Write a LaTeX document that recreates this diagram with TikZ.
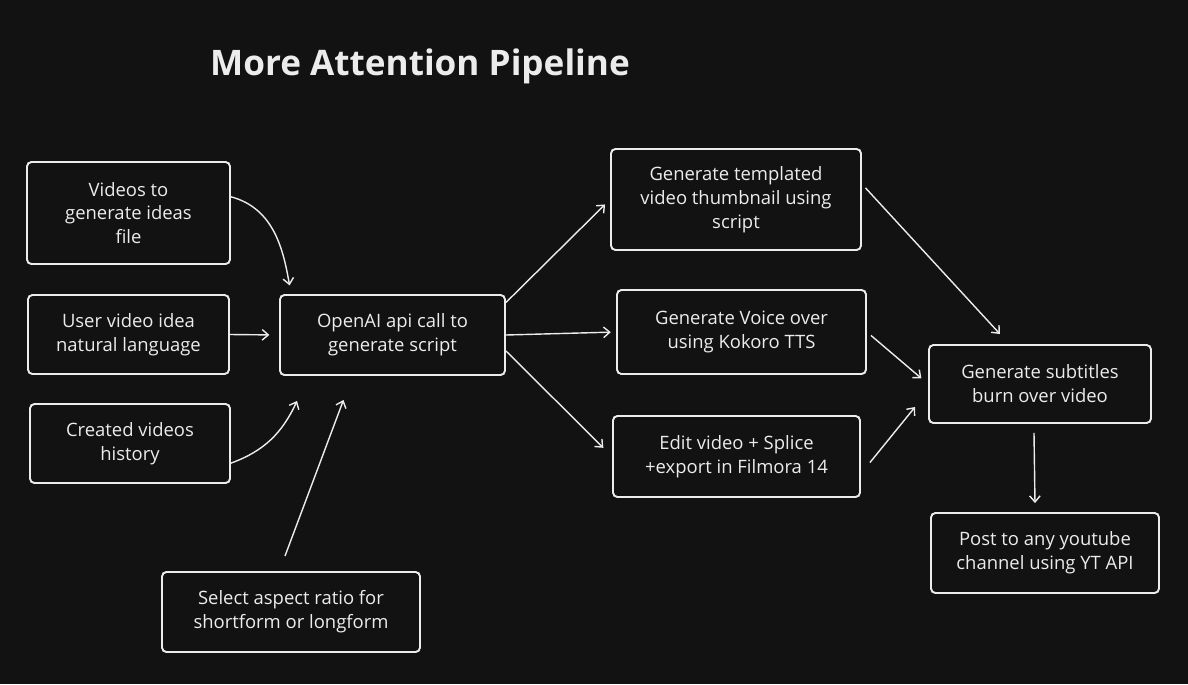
\documentclass[tikz,border=0pt]{standalone}
\usepackage{fontspec}
\setmainfont{Open Sans}
\usetikzlibrary{arrows.meta}

\definecolor{canvas}{HTML}{121212}
\definecolor{ink}{HTML}{ECECEC}

\tikzset{
    stage/.style={draw=ink, line width=1.1pt, rounded corners=2.5pt, align=center,
        text=ink, font=\fontsize{10.5}{13.6}\selectfont, inner sep=0pt},
    flow/.style={-{Straight Barb[length=3.5pt,width=6pt]}, draw=ink, line width=0.8pt}
}

\begin{document}
\begin{tikzpicture}[x=0.02cm, y=-0.02cm]
            \fill[canvas] (0,0) rectangle (1188,684);
            \useasboundingbox (0,0) rectangle (1188,684);

            \node[text=ink, font=\fontsize{20}{24}\selectfont\bfseries] (title) at (420,66) {More Attention Pipeline};

            % inputs
            \node[stage, minimum width=4.06cm, minimum height=2.04cm] (videos) at (128.5,213) {Videos to\\generate ideas\\file};
            \node[stage, minimum width=4.02cm, minimum height=1.58cm] (user) at (128.5,334.5) {User video idea\\natural language};
            \node[stage, minimum width=4.0cm, minimum height=1.58cm] (created) at (130,443.5) {Created videos\\history};
            \node[stage, minimum width=5.16cm, minimum height=1.6cm] (select) at (291,612) {Select aspect ratio for\\shortform or longform};

            \node[stage, minimum width=4.5cm, minimum height=1.6cm] (openai) at (392.5,335) {OpenAI api call to\\generate script};

            % parallel steps
            \node[stage, minimum width=5.0cm, minimum height=2.02cm] (thumb) at (736,199.5) {Generate templated\\video thumbnail using\\script};
            \node[stage, minimum width=4.98cm, minimum height=1.68cm] (voice) at (741.5,332) {Generate Voice over\\using Kokoro TTS};
            \node[stage, minimum width=4.94cm, minimum height=1.62cm] (edit) at (736.5,456.5) {Edit video + Splice\\+export in Filmora 14};

            \node[stage, minimum width=4.44cm, minimum height=1.56cm] (subt) at (1040,384) {Generate subtitles\\burn over video};
            \node[stage, minimum width=4.56cm, minimum height=1.6cm] (post) at (1045,553) {Post to any youtube\\channel using YT API};

            \draw[flow, shorten >=5pt] (videos.9) to[out=-15, in=100] (openai.158);
            \draw[flow, shorten >=5.5pt] (user.east) -- (openai.west);
            \draw[flow] (created.-11) to[out=20, in=-115] ([shift={(18,25)}]openai.south west);
            \draw[flow] ([shift={(-6,-15)}]select.north) -- ([shift={(-49,24)}]openai.south);

            \draw[flow, shorten >=4pt] (openai.16) -- (thumb.west);
            \draw[flow, shorten >=3pt] (openai.east) -- (voice.west);
            \draw[flow, shorten >=7pt] (openai.-8) -- (edit.west);

            \draw[flow, shorten <=3pt] (thumb.7) -- ([shift={(-40,-10)}]subt.north);
            \draw[flow, shorten <=3pt, shorten >=5pt] (voice.east) -- (subt.west);
            \draw[flow] ([shift={(9,6)}]edit.east) -- ([shift={(-13,23)}]subt.west);
            \draw[flow] ([shift={(-6,9)}]subt.south) -- ([shift={(-10,-9)}]post.north);
        \end{tikzpicture}
\end{document}
